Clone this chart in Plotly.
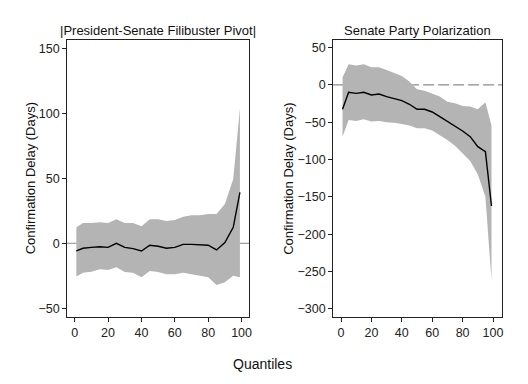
import plotly.graph_objects as go

quantiles = [1, 5, 10, 15, 20, 25, 30, 35, 40, 45, 50, 55, 60, 65, 70, 75, 80, 85, 90, 95, 99]

# Panel 1: |President-Senate Filibuster Pivot|
pivot_est = [-5.9, -3.8, -3.1, -2.6, -3.1, 0.0, -3.1, -4.1, -5.9, -1.5, -2.3, -3.8, -3.1, -0.8, -0.8, -1.3, -1.5, -5.1, 0.5, 12.3, 39.2]
pivot_hi = [12.3, 15.6, 15.6, 16.2, 15.6, 18.5, 15.6, 15.6, 13.1, 18.5, 18.5, 17.2, 17.9, 20.5, 21.5, 21.5, 22.6, 22.6, 30.3, 49.5, 103.8]
pivot_lo = [-25.6, -22.6, -21.8, -20.0, -20.5, -18.5, -22.0, -22.6, -26.2, -21.3, -22.0, -23.8, -23.8, -22.6, -23.8, -24.9, -26.2, -32.0, -30.0, -24.9, -26.2]

# Panel 2: Senate Party Polarization
polar_est = [-32.6, -9.8, -11.2, -9.8, -13.4, -12.1, -15.6, -18.8, -21.0, -25.9, -32.6, -32.6, -36.2, -42.5, -48.7, -55.4, -61.7, -69.3, -82.7, -89.4, -162.3]
polar_hi = [10.0, 27.7, 26.0, 27.7, 23.7, 23.7, 20.0, 15.6, 12.0, 4.5, -5.8, -7.6, -11.2, -15.6, -22.4, -24.6, -28.2, -29.0, -32.6, -23.2, -54.5]
polar_lo = [-69.3, -47.0, -48.3, -46.0, -49.0, -48.3, -50.0, -50.5, -52.3, -54.5, -58.0, -58.0, -61.2, -67.0, -73.8, -81.4, -91.6, -102.0, -120.0, -150.0, -262.0]

titles = ["|President-Senate Filibuster Pivot|", "Senate Party Polarization"]
y_title = "Confirmation Delay (Days)"
x_title = "Quantiles"
x_ticks = [0, 20, 40, 60, 80, 100]
y_ticks_1 = [-50, 0, 50, 100, 150]
y_ticks_2 = [-300, -250, -200, -150, -100, -50, 0, 50]

# the page body has an 8px margin, so the figure is drawn 8px in from the window corner
OFF = 8
W, H = 528 - OFF, 384 - OFF
FONT = "Liberation Sans, Arial, sans-serif"
BAND = "#b4b4b4"

fig = go.Figure()

def add_panel(xa, ya, est, hi, lo):
    fig.add_trace(go.Scatter(x=quantiles, y=hi, mode="lines", line=dict(width=0, color=BAND),
                             xaxis=xa, yaxis=ya, showlegend=False, hoverinfo="skip"))
    fig.add_trace(go.Scatter(x=quantiles, y=lo, mode="lines", line=dict(width=0, color=BAND),
                             fill="tonexty", fillcolor=BAND,
                             xaxis=xa, yaxis=ya, showlegend=False, hoverinfo="skip"))
    fig.add_trace(go.Scatter(x=quantiles, y=est, mode="lines", line=dict(width=1.4, color="black"),
                             xaxis=xa, yaxis=ya, showlegend=False))

add_panel("x", "y", pivot_est, pivot_hi, pivot_lo)
add_panel("x2", "y2", polar_est, polar_hi, polar_lo)

def px_x(p):
    return (p - OFF) / W

def px_y(p):
    return 1 - (p - OFF) / H

top, bottom = 40, 317
l1, r1 = 67.5, 250.5
l2, r2 = 335, 505

axis_common = dict(showgrid=False, zeroline=False, showline=True, mirror=True,
                   linecolor="#222", linewidth=1, ticks="outside", ticklen=4,
                   tickcolor="#222", tickfont=dict(family=FONT, size=12.5, color="#222"))

def label(text, x, y, size, angle=0):
    return dict(text=text, x=px_x(x), y=px_y(y), xref="paper", yref="paper",
                xanchor="center", yanchor="middle", textangle=angle,
                showarrow=False, font=dict(family=FONT, size=size, color="#111"))

fig.update_layout(
    width=W, height=H,
    margin=dict(l=0, r=0, t=0, b=0),
    paper_bgcolor="white", plot_bgcolor="white",
    xaxis=dict(domain=[px_x(l1), px_x(r1)], range=[-4.5, 104.5], tickvals=x_ticks, anchor="y", **axis_common),
    yaxis=dict(domain=[px_y(bottom), px_y(top)], range=[-56.7, 156.4], tickvals=y_ticks_1, anchor="x", **axis_common),
    xaxis2=dict(domain=[px_x(l2), px_x(r2)], range=[-5.2, 106], tickvals=x_ticks, anchor="y2", **axis_common),
    yaxis2=dict(domain=[px_y(bottom), px_y(top)], range=[-311.1, 60.3], tickvals=y_ticks_2, anchor="x2", **axis_common),
    shapes=[
        dict(type="line", xref="x domain", yref="y", x0=0, x1=1, y0=0, y1=0,
             line=dict(color="#8c8c8c", width=1), layer="below"),
        dict(type="line", xref="x2 domain", yref="y2", x0=0, x1=1, y0=0, y1=0,
             line=dict(color="#8c8c8c", width=1.2, dash="11px,4px"), layer="below"),
    ],
    annotations=[
        label(titles[0], (l1 + r1) / 2, 30, 13),
        label(titles[1], (l2 + r2) / 2, 30, 13),
        label(y_title, 31, (top + bottom) / 2, 13, -90),
        label(y_title, 290, (top + bottom) / 2, 13, -90),
        label(x_title, 264, 364, 14),
    ],
)

fig.write_html("out.html")
